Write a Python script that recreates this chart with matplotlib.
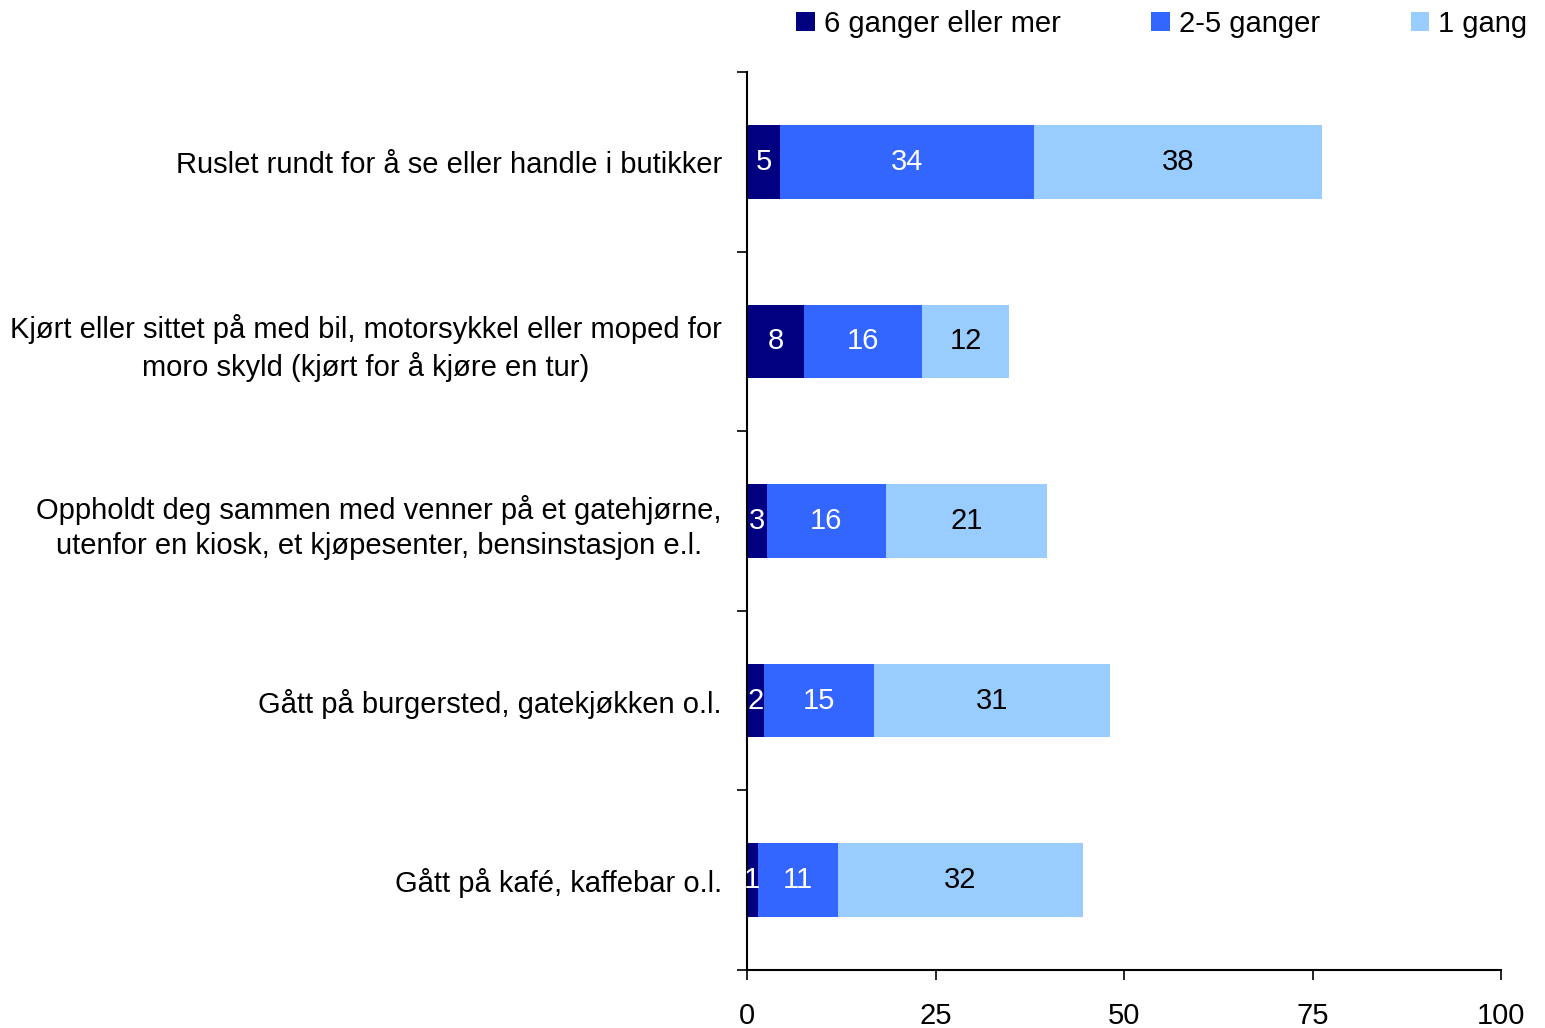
import matplotlib
matplotlib.use("Agg")
from matplotlib import pyplot as plt
import numpy as np

plt.rcParams['font.family'] = ['Liberation Sans', 'DejaVu Sans']

categories = [
    'Ruslet rundt for å se eller handle i butikker',
    'Kjørt eller sittet på med bil, motorsykkel eller moped for\nmoro skyld (kjørt for å kjøre en tur)',
    'Oppholdt deg sammen med venner på et gatehjørne,\nutenfor en kiosk, et kjøpesenter, bensinstasjon e.l.',
    'Gått på burgersted, gatekjøkken o.l.',
    'Gått på kafé, kaffebar o.l.',
]
series_names = ['6 ganger eller mer', '2-5 ganger', '1 gang']
six_plus = [4.4, 7.6, 2.6, 2.3, 1.4]
two_five = [33.7, 15.6, 15.8, 14.6, 10.7]
one_time = [38.2, 11.6, 21.4, 31.3, 32.4]
labels_six = ['5', '8', '3', '2', '1']
labels_two = ['34', '16', '16', '15', '11']
labels_one = ['38', '12', '21', '31', '32']

colors = ['#000080', '#3366FF', '#99CCFF']
text_colors = ['white', 'white', 'black']
fs = 21

fig = plt.figure(figsize=(15.45, 10.28), dpi=100)
ax = fig.add_axes([747 / 1545, 58 / 1028, 754 / 1545, 898 / 1028])

y = np.arange(len(categories))
left = np.zeros(len(categories))
all_vals = [six_plus, two_five, one_time]
all_labels = [labels_six, labels_two, labels_one]
for vals, labs, name, c, tc in zip(all_vals, all_labels, series_names, colors, text_colors):
    bars = ax.barh(y, vals, left=left, height=0.41, color=c, label=name)
    ax.bar_label(bars, labels=labs, label_type='center', color=tc, fontsize=fs)
    left = left + np.array(vals)

ax.set_xlim(0, 100)
ax.set_ylim(len(categories) - 0.5, -0.5)
ax.set_xticks([0, 25, 50, 75, 100])
ax.set_yticks(y)
ax.set_yticklabels(categories, multialignment='center', linespacing=1.3)
ax.set_yticks(np.arange(-0.5, len(categories), 1), minor=True)
ax.tick_params(axis='y', which='major', length=0, labelsize=fs, pad=18)
ax.tick_params(axis='y', which='minor', length=7.2, width=1.2, direction='out')
ax.tick_params(axis='x', length=7.2, width=1.2, direction='out', labelsize=fs, pad=16)

ax.spines['top'].set_visible(False)
ax.spines['right'].set_visible(False)
ax.spines['left'].set_linewidth(1.5)
ax.spines['bottom'].set_linewidth(1.5)

fig.legend(loc='upper right', bbox_to_anchor=(1539 / 1545, 1.002), ncol=3, frameon=False,
           fontsize=fs, handlelength=0.65, handleheight=0.65, handletextpad=0.3,
           columnspacing=3.1, borderaxespad=0)

fig.savefig('out.png', dpi=100)
